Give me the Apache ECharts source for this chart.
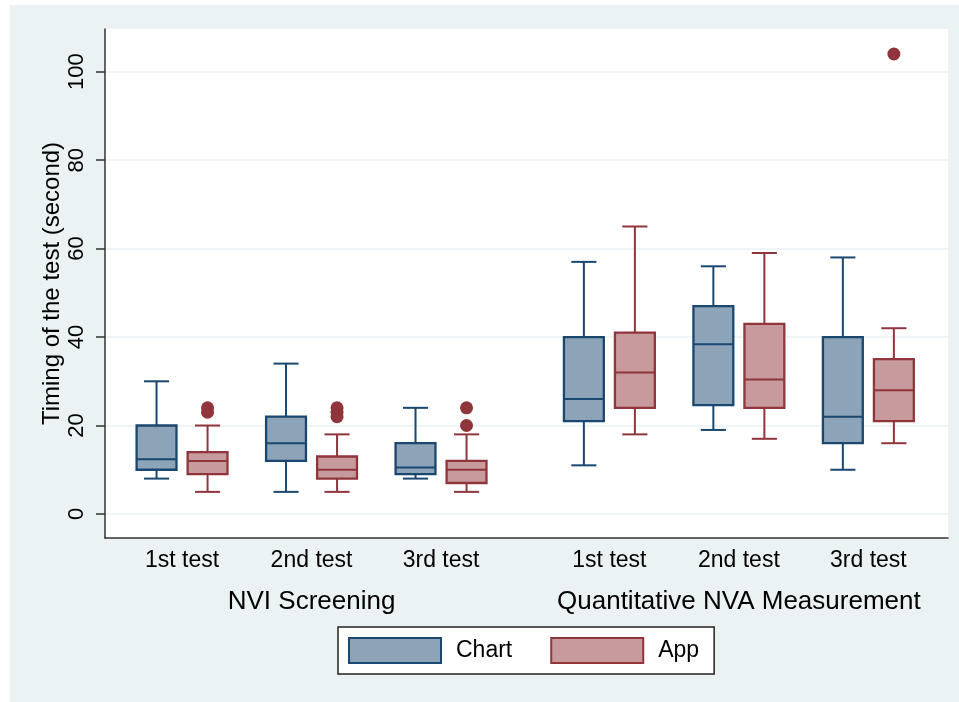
<!DOCTYPE html>
<html>
<head>
<meta charset="utf-8">
<script src="https://cdn.jsdelivr.net/npm/echarts@6/dist/echarts.min.js"></script>
<style>
html, body { margin: 0; padding: 0; background: #ffffff; width: 959px; height: 702px; overflow: hidden; }
#chart { position: absolute; left: 10px; top: 5px; width: 949px; height: 697px; }
</style>
</head>
<body>
<div id="chart"></div>
<script>
// ---- data ----
const tests = ['1st test', '2nd test', '3rd test'];
const groups = ['NVI Screening', 'Quantitative NVA Measurement'];
const seriesNames = ['Chart', 'App'];
const yTicks = [0, 20, 40, 60, 80, 100];

// [lower whisker, Q1, median, Q3, upper whisker] per box (group x test)
const chartStats = [
  [8, 10, 12.4, 20, 30],
  [5, 12, 16, 22, 34],
  [8, 9, 10.5, 16, 24],
  [11, 21, 26, 40, 57],
  [19, 24.6, 38.4, 47, 56],
  [10, 16, 22, 40, 58]
];
const appStats = [
  [5, 9, 12, 14, 20],
  [5, 8, 10, 13, 18],
  [5, 7, 10, 12, 18],
  [18, 24, 32, 41, 65],
  [17, 24, 30.4, 43, 59],
  [16, 21, 28, 35, 42]
];
// [box index, value]
const appOutliers = [
  [0, 23], [0, 24],
  [1, 22], [1, 23], [1, 24],
  [2, 20], [2, 24],
  [5, 104]
];
const chartOutliers = [];

// ---- layout constants ----
const GROUP_SPAN = 3.3;
const PAIR_OFFSET = 0.197;
const BOX_HALF = 0.154;
const CAP_HALF = 0.097;
const X_MIN = -0.595, X_MAX = 5.915;
const Y_MIN = -5.43, Y_MAX = 109.65;

const NAVY = '#1a476f', NAVY_FILL = '#8da3b7';
const MAROON = '#90353b', MAROON_FILL = '#c79a9d';
const FONT = "'Liberation Sans', Arial, Helvetica, sans-serif";

function posOf(i) { return Math.floor(i / tests.length) * GROUP_SPAN + (i % tests.length); }
const tickPositions = [];
const tickNames = [];
groups.forEach((g, gi) => tests.forEach((t, ti) => { tickPositions.push(gi * GROUP_SPAN + ti); tickNames.push(t); }));
const groupPositions = groups.map((g, gi) => gi * GROUP_SPAN + (tests.length - 1) / 2);

function nameAt(positions, names, v) {
  for (let i = 0; i < positions.length; i++) if (Math.abs(positions[i] - v) < 1e-6) return names[i];
  return '';
}

function boxRender(stroke, fill) {
  return function (params, api) {
    const x = api.value(0);
    const lo = api.coord([x, api.value(1)]);
    const q1 = api.coord([x, api.value(2)]);
    const md = api.coord([x, api.value(3)]);
    const q3 = api.coord([x, api.value(4)]);
    const hi = api.coord([x, api.value(5)]);
    const bw = api.size([BOX_HALF * 2, 0])[0];
    const cw = api.size([CAP_HALF * 2, 0])[0];
    const cx = lo[0];
    const ls = { stroke: stroke, lineWidth: 2, fill: null };
    return {
      type: 'group',
      children: [
        { type: 'line', shape: { x1: cx, y1: q3[1], x2: cx, y2: hi[1] }, style: ls },
        { type: 'line', shape: { x1: cx, y1: q1[1], x2: cx, y2: lo[1] }, style: ls },
        { type: 'line', shape: { x1: cx - cw / 2, y1: hi[1], x2: cx + cw / 2, y2: hi[1] }, style: ls },
        { type: 'line', shape: { x1: cx - cw / 2, y1: lo[1], x2: cx + cw / 2, y2: lo[1] }, style: ls },
        { type: 'rect', shape: { x: cx - bw / 2, y: q3[1], width: bw, height: q1[1] - q3[1] }, style: { fill: fill, stroke: stroke, lineWidth: 2.3 } },
        { type: 'line', shape: { x1: cx - bw / 2, y1: md[1], x2: cx + bw / 2, y2: md[1] }, style: ls }
      ]
    };
  };
}

const chartData = chartStats.map((s, i) => [posOf(i) - PAIR_OFFSET].concat(s));
const appData = appStats.map((s, i) => [posOf(i) + PAIR_OFFSET].concat(s));
const appOutData = appOutliers.map(o => [posOf(o[0]) + PAIR_OFFSET, o[1]]);
const chartOutData = chartOutliers.map(o => [posOf(o[0]) - PAIR_OFFSET, o[1]]);

const chart = echarts.init(document.getElementById('chart'), null, { renderer: 'canvas' });
chart.setOption({
  animation: false,
  backgroundColor: '#eaf2f3',
  textStyle: { fontFamily: FONT },
  grid: {
    left: 95, top: 24, right: 11, bottom: 164,
    show: true, backgroundColor: '#ffffff', borderWidth: 0
  },
  legend: {
    left: 328, top: 622,
    orient: 'horizontal',
    backgroundColor: '#ffffff',
    borderColor: '#222222', borderWidth: 1.5, borderRadius: 0,
    padding: [10, 15, 10, 10],
    itemWidth: 92, itemHeight: 25, itemGap: 38,
    textStyle: { fontSize: 23, color: '#000', fontFamily: FONT, padding: [0, 0, 0, 10] },
    selectedMode: false,
    data: [
      { name: seriesNames[0], icon: 'rect', itemStyle: { color: NAVY_FILL, borderColor: NAVY, borderWidth: 2 } },
      { name: seriesNames[1], icon: 'rect', itemStyle: { color: MAROON_FILL, borderColor: MAROON, borderWidth: 2 } }
    ]
  },
  xAxis: [
    {
      type: 'value', min: X_MIN, max: X_MAX, position: 'bottom',
      axisLine: { show: true, onZero: false, lineStyle: { color: '#333333', width: 1.5 } },
      axisTick: { show: false },
      splitLine: { show: false },
      axisLabel: {
        customValues: tickPositions,
        formatter: v => nameAt(tickPositions, tickNames, v),
        fontSize: 23, color: '#000', margin: 11, fontFamily: FONT
      }
    },
    {
      type: 'value', min: X_MIN, max: X_MAX, position: 'bottom',
      axisLine: { show: false },
      axisTick: { show: false },
      splitLine: { show: false },
      axisLabel: {
        customValues: groupPositions,
        formatter: v => nameAt(groupPositions, groups, v),
        fontSize: 26, color: '#000', margin: 51, fontFamily: FONT
      }
    }
  ],
  yAxis: {
    type: 'value', min: Y_MIN, max: Y_MAX,
    name: 'Timing of the test (second)',
    nameLocation: 'middle', nameGap: 41, nameMoveOverlap: false,
    nameTextStyle: { fontSize: 24, color: '#000', fontFamily: FONT },
    axisLine: { show: true, onZero: false, lineStyle: { color: '#333333', width: 1.5 } },
    axisTick: { show: true, inside: false, length: 9, customValues: yTicks, lineStyle: { color: '#333333', width: 1.5 } },
    splitLine: { show: true, lineStyle: { color: '#eaf2f3', width: 1.5 } },
    axisLabel: {
      customValues: yTicks, rotate: 90, fontSize: 22, color: '#000', margin: 17, fontFamily: FONT
    }
  },
  series: [
    {
      name: seriesNames[0], type: 'custom', xAxisIndex: 0,
      renderItem: boxRender(NAVY, NAVY_FILL),
      itemStyle: { color: NAVY_FILL, borderColor: NAVY },
      encode: { x: 0, y: [1, 2, 3, 4, 5] },
      data: chartData, z: 3
    },
    {
      name: seriesNames[1], type: 'custom', xAxisIndex: 0,
      renderItem: boxRender(MAROON, MAROON_FILL),
      itemStyle: { color: MAROON_FILL, borderColor: MAROON },
      encode: { x: 0, y: [1, 2, 3, 4, 5] },
      data: appData, z: 3
    },
    {
      name: 'App outliers', type: 'scatter', xAxisIndex: 0,
      symbol: 'circle', symbolSize: 13,
      itemStyle: { color: MAROON, opacity: 1 },
      data: appOutData, z: 4
    },
    {
      name: 'Chart outliers', type: 'scatter', xAxisIndex: 0,
      symbol: 'circle', symbolSize: 13,
      itemStyle: { color: NAVY, opacity: 1 },
      data: chartOutData, z: 4
    }
  ]
});
</script>
</body>
</html>
